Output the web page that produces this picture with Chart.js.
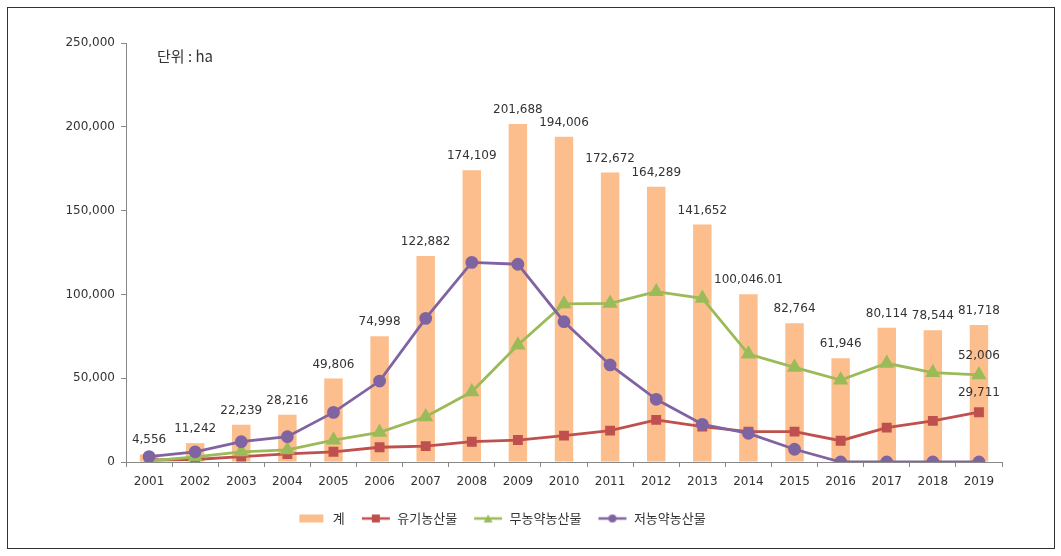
<!DOCTYPE html>
<html>
<head>
<meta charset="utf-8">
<script src="https://cdn.jsdelivr.net/npm/chart.js@4"></script>
<style>
  html, body { margin: 0; padding: 0; background: #fff; }
  #wrap { width: 1061px; height: 556px; position: relative; }
</style>
</head>
<body>
<div id="wrap"><canvas id="grafico"></canvas></div>
<script>
// dados do gráfico
const anos = ["2001", "2002", "2003", "2004", "2005", "2006", "2007", "2008", "2009", "2010",
    "2011", "2012", "2013", "2014", "2015", "2016", "2017", "2018", "2019"];
const total = [4556, 11242, 22239, 28216, 49806, 74998, 122882, 174109, 201688, 194006,
    172672, 164289, 141652, 100046.01, 82764, 61946, 80114, 78544, 81718];
const organico = [1200, 1500, 3200, 4800, 6100, 8800, 9500, 12100, 13100, 15700,
    18700, 25100, 21100, 18100, 18100, 12700, 20500, 24500, 29711];
const semAgrotoxico = [600, 3000, 6100, 7200, 13100, 17700, 27000, 41900, 69800, 94300,
    94700, 101600, 97700, 64400, 56500, 48900, 58900, 53300, 52006];
const baixoAgrotoxico = [3200, 6100, 12100, 15100, 29600, 48300, 85700, 119100, 118000, 83700,
    57900, 37400, 22500, 17100, 7600, 0, 0, 0, 0];
const nomesSeries = ["계", "유기농산물", "무농약농산물", "저농약농산물"];
const ticksY = [0, 50000, 100000, 150000, 200000, 250000];

const corBarra = "#FBBE8C";
const corVermelho = "#C0504D";
const corVerde = "#9BBB59";
const corRoxo = "#8064A2";
const fonteNum = "'DejaVu Sans', 'Noto Sans CJK KR', sans-serif";
const fonteKr = "'Noto Sans CJK KR', 'DejaVu Sans', sans-serif";

function formatar(v) {
    return v.toLocaleString("en-US", { maximumFractionDigits: 2 });
}

// ícones da legenda (linha + marcador)
function iconeLegenda(cor, tipo) {
    const c = document.createElement("canvas");
    c.width = 30; c.height = 12;
    const ctx = c.getContext("2d");
    if (tipo === "barra") {
        ctx.fillStyle = cor;
        ctx.fillRect(3, 2, 24, 8);
        return c;
    }
    ctx.strokeStyle = cor;
    ctx.lineWidth = 2.5;
    ctx.beginPath(); ctx.moveTo(1, 6); ctx.lineTo(29, 6); ctx.stroke();
    ctx.fillStyle = cor;
    if (tipo === "rect") ctx.fillRect(11, 2, 8, 8);
    if (tipo === "triangle") {
        ctx.beginPath(); ctx.moveTo(15, 2); ctx.lineTo(19.5, 10); ctx.lineTo(10.5, 10); ctx.closePath(); ctx.fill();
    }
    if (tipo === "circle") {
        ctx.beginPath(); ctx.arc(15, 6, 4, 0, Math.PI * 2); ctx.fill();
    }
    return c;
}
const icones = [iconeLegenda(corBarra, "barra"), iconeLegenda(corVermelho, "rect"),
    iconeLegenda(corVerde, "triangle"), iconeLegenda(corRoxo, "circle")];

// moldura e rótulos de valores
const pluginExtra = {
    id: "extra",
    beforeDraw(chart) {
        const ctx = chart.ctx;
        ctx.save();
        ctx.fillStyle = "#fff";
        ctx.fillRect(0, 0, chart.width, chart.height);
        ctx.strokeStyle = "#333";
        ctx.lineWidth = 1;
        ctx.strokeRect(7.5, 7.5, 1047, 541);
        ctx.restore();
    },
    afterDatasetsDraw(chart) {
        const ctx = chart.ctx;
        ctx.save();
        ctx.font = "12px " + fonteNum;
        ctx.fillStyle = "#333";
        ctx.textAlign = "center";
        ctx.textBaseline = "bottom";
        chart.getDatasetMeta(0).data.forEach((bar, i) => {
            ctx.fillText(formatar(total[i]), bar.x, bar.y - 8);
        });
        const ult = anos.length - 1;
        const pV = chart.getDatasetMeta(1).data[ult];
        const pG = chart.getDatasetMeta(2).data[ult];
        ctx.fillText(formatar(organico[ult]), pV.x, pV.y - 13);
        ctx.fillText(formatar(semAgrotoxico[ult]), pG.x, pG.y - 13);
        // unidade
        ctx.textAlign = "left";
        ctx.textBaseline = "middle";
        ctx.font = "15px " + fonteKr;
        ctx.fillText("단위 : ha", 157, 56);
        ctx.restore();
    },
};

const grafico = document.getElementById("grafico");
new Chart(grafico, {
    type: "bar",
    data: {
        labels: anos,
        datasets: [
            {
                label: nomesSeries[0], data: total, backgroundColor: corBarra,
                barPercentage: 0.4, categoryPercentage: 1, order: 4,
            },
            {
                type: "line", label: nomesSeries[1], data: organico, borderColor: corVermelho,
                backgroundColor: corVermelho, borderWidth: 2.8, pointStyle: "rect",
                pointRadius: 5, order: 3,
            },
            {
                type: "line", label: nomesSeries[2], data: semAgrotoxico, borderColor: corVerde,
                backgroundColor: corVerde, borderWidth: 2.8, pointStyle: "triangle",
                pointRadius: 6, order: 2,
            },
            {
                type: "line", label: nomesSeries[3], data: baixoAgrotoxico, borderColor: corRoxo,
                backgroundColor: corRoxo, borderWidth: 2.8, pointStyle: "circle",
                pointRadius: 5, order: 1,
            },
        ],
    },
    options: {
        responsive: true,
        maintainAspectRatio: false,
        animation: false,
        layout: { padding: { top: 43, left: 0, right: 59, bottom: 21 } },
        scales: {
            x: {
                offset: true,
                grid: { display: true, drawOnChartArea: false, offset: true, tickLength: 5, color: "#888" },
                border: { color: "#888" },
                ticks: { color: "#333", font: { size: 12, family: fonteNum }, padding: 8 },
                afterFit(scale) { scale.height = 34; },
            },
            y: {
                min: 0, max: 250000,
                afterBuildTicks(scale) { scale.ticks = ticksY.map((v) => ({ value: v })); },
                grid: { display: true, drawOnChartArea: false, tickLength: 5, color: "#888" },
                border: { color: "#888" },
                ticks: {
                    color: "#333", font: { size: 12, family: fonteNum }, padding: 6,
                    callback: (v) => formatar(v),
                },
                afterFit(scale) { scale.width = 126; },
            },
        },
        plugins: {
            legend: {
                position: "bottom",
                labels: {
                    usePointStyle: true,
                    pointStyleWidth: 30,
                    padding: 16,
                    color: "#333",
                    font: { size: 13, family: fonteKr },
                    generateLabels(chart) {
                        const itens = Chart.defaults.plugins.legend.labels.generateLabels(chart);
                        itens.sort((a, b) => a.datasetIndex - b.datasetIndex);
                        itens.forEach((it) => { it.pointStyle = icones[it.datasetIndex]; });
                        return itens;
                    },
                },
            },
            tooltip: { enabled: false },
        },
    },
    plugins: [pluginExtra],
});
</script>
</body>
</html>
